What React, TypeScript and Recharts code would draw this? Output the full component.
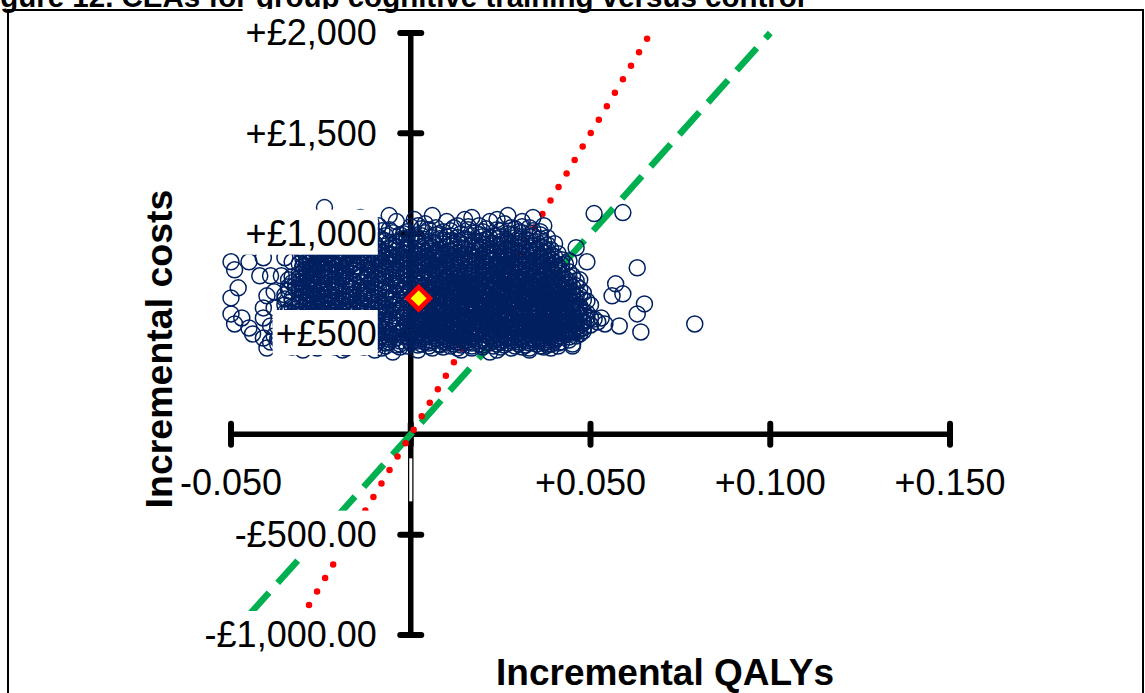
import React from "react";
import { ScatterChart, Scatter, XAxis, YAxis } from "recharts";

const W = 1145;
const H = 693;

const costBands = [
  1130, 1105, 1100, 1090, 1080, 1070, 1060, 1050, 1040, 1030, 1020, 1010, 1000,
  990, 980, 970, 960, 950, 940, 930, 920, 910, 900, 890, 880, 870, 860, 850, 840,
  830, 820, 810, 800, 790, 780, 770, 760, 750, 740, 730, 720, 710, 700, 690, 680,
  670, 660, 650, 640, 630, 620, 610, 600, 590, 580, 570, 560, 550, 540, 530, 520,
  510, 500, 490, 480, 470, 460, 450, 440, 430, 420, 410,
];
const qalyRows = [
  [-24], [59], [51], [-6, 6, 27], [-14, 17, 34], [-27, 1, 15, 24], [-20, -4, 10, 22, 31],
  [-31, -11, 4, 26], [-9, 2, 13, 19, 37], [-24, -15, 7, 12, 28, 33], [-28, -6, 5, 16, 24],
  [-17, -1, 9, 20, 30, 36], [-25, -11, -2, 8, 14, 27],
  [-30, -19, -7, 3, 11, 17, 23, 34],
  [-23, -14, -1, 6, 13, 22, 29, 38],
  [-26, -8, 0, 9, 16, 21, 32],
  [-21, -12, -4, 4, 13, 18, 25, 35],
  [-29, -17, -10, -3, 2, 9, 14, 23, 30, 40],
  [-27, -24, -15, -5, 4, 11, 17, 22, 28, 34],
  [-31, -22, -17, -9, -1, 6, 14, 20, 27, 33, 37, 46],
  [-27, -20, -13, -2, 3, 8, 12, 19, 25, 31, 39],
  [-25, -20, -13, -8, 2, 7, 16, 21, 25, 30, 35],
  [-29, -23, -17, -11, -6, 1, 6, 10, 15, 21, 26, 30, 41],
  [-27, -23, -15, -9, -3, 5, 9, 14, 19, 26, 31, 36],
  [-41, -35, -25, -18, -10, -5, -1, 4, 12, 18, 24, 29, 33, 38],
  [-28, -22, -19, -12, -6, 0, 8, 12, 16, 23, 27, 33, 39, 42],
  [-50, -45, -33, -29, -23, -17, -12, -4, 3, 7, 14, 20, 25, 31, 35, 49],
  [-31, -26, -22, -16, -8, -3, 2, 10, 16, 21, 27, 32, 36, 43],
  [-30, -25, -20, -15, -9, 1, 7, 11, 17, 24, 28, 34, 40],
  [-28, -24, -18, -12, -3, 2, 8, 13, 19, 23, 29, 33, 38, 63],
  [-49, -29, -25, -19, -11, -6, 4, 10, 15, 22, 26, 32, 37, 41],
  [-30, -26, -21, -14, -7, 0, 5, 9, 17, 21, 26, 31, 36, 44],
  [-31, -27, -16, -8, -2, 6, 11, 15, 19, 23, 30, 35, 39],
  [-42, -39, -36, -29, -24, -19, -12, -2, 3, 11, 14, 20, 25, 28, 37, 45],
  [-31, -27, -23, -19, -10, -5, 3, 8, 13, 17, 25, 30, 34, 42],
  [-34, -28, -21, -13, -5, 1, 7, 14, 18, 22, 27, 31, 36, 40, 47],
  [-31, -27, -22, -16, -7, -1, 5, 12, 16, 19, 24, 27, 33, 36, 44],
  [-30, -26, -20, -11, -4, 2, 9, 13, 16, 21, 25, 29, 33, 38, 41, 57],
  [-29, -24, -18, -12, -4, 4, 9, 13, 17, 21, 26, 30, 34, 38, 46],
  [-48, -31, -27, -21, -14, -8, 2, 6, 10, 14, 18, 23, 27, 31, 35, 43],
  [-30, -25, -21, -12, -6, -2, 7, 11, 15, 20, 24, 28, 32, 36, 40],
  [-38, -30, -25, -17, -11, -6, 3, 8, 12, 16, 20, 25, 29, 33, 37, 41, 45],
  [-29, -23, -16, -10, -1, 4, 8, 13, 17, 22, 26, 30, 34, 38, 42, 59],
  [-40, -30, -26, -19, -13, -4, 1, 5, 10, 14, 18, 22, 27, 31, 35, 39, 47, 56],
  [-50, -33, -28, -21, -16, -7, 1, 6, 10, 15, 19, 23, 28, 32, 36, 40, 44],
  [-31, -27, -22, -17, -11, -3, 2, 6, 11, 15, 20, 24, 29, 33, 37, 41, 48],
  [-30, -26, -24, -18, -9, 0, 4, 8, 12, 17, 21, 25, 29, 34, 38, 42, 46],
  [-31, -27, -24, -19, -14, -5, 1, 4, 9, 13, 18, 22, 26, 30, 35, 39, 43, 65],
  [-29, -25, -20, -14, -8, 1, 6, 11, 15, 20, 24, 27, 30, 35, 39, 43, 47],
  [-41, -38, -30, -23, -15, -9, -2, 3, 7, 11, 16, 20, 24, 28, 33, 37, 41, 45],
  [-28, -23, -18, -10, -4, 5, 9, 13, 17, 22, 26, 31, 35, 37, 41, 45],
  [-31, -25, -21, -12, -7, -1, 4, 9, 14, 18, 23, 27, 31, 35, 39, 43, 48],
  [-50, -30, -25, -16, -11, -7, 3, 7, 12, 16, 20, 25, 29, 33, 38, 42, 46, 63],
  [-33, -26, -19, -13, -9, 0, 4, 8, 11, 15, 21, 25, 29, 33, 37, 41, 45],
  [-47, -41, -29, -22, -17, -13, -4, 2, 6, 10, 14, 18, 22, 27, 31, 35, 39, 43, 47, 50, 53],
  [-31, -26, -17, -13, -8, 2, 6, 10, 15, 19, 23, 27, 32, 36, 40, 44, 49],
  [-36, -27, -21, -15, -11, -3, 3, 7, 12, 16, 20, 24, 28, 33, 37, 42, 46, 52],
  [-49, -30, -24, -15, -10, -6, 4, 8, 12, 17, 21, 25, 30, 34, 38, 42, 46, 54, 79],
  [-39, -30, -25, -19, -14, -10, 0, 5, 9, 13, 18, 22, 26, 31, 35, 39, 43, 47, 58],
  [-45, -33, -26, -20, -14, -5, 1, 6, 10, 14, 19, 23, 28, 32, 36, 40, 44, 48],
  [-35, -29, -21, -16, -11, -2, 3, 7, 11, 15, 19, 24, 28, 33, 37, 41, 45],
  [-36, -30, -24, -16, -7, -3, 3, 8, 12, 16, 21, 25, 30, 34, 38, 42, 46, 64],
  [-44, -32, -26, -20, -12, -6, 0, 5, 9, 13, 17, 21, 26, 30, 35, 39, 43, 47],
  [-38, -33, -27, -22, -17, -8, -2, 2, 6, 10, 14, 18, 23, 27, 32, 36, 41, 46],
  [-41, -36, -30, -22, -13, -9, -4, 1, 7, 11, 15, 20, 24, 29, 33, 37, 41],
  [-35, -25, -19, -14, -9, 1, 5, 9, 12, 16, 20, 25, 29, 34, 38, 44],
  [-39, -28, -18, -12, -6, 0, 4, 9, 13, 16, 21, 25, 30, 34, 38, 42],
  [-37, -32, -21, -15, -11, -3, 3, 8, 12, 19, 24, 30, 35, 39, 45],
  [-36, -29, -23, -15, -7, -1, 5, 11, 17, 23, 29, 36, 41, 45],
  [-40, -26, -18, -8, 6, 13, 17, 28, 33, 39],
  [-30, -19, -10, 2, 14, 24, 33],
  [-5, 22],
];

// the dense core, read at the in-between bands
const midCostBands = [
  1035, 1025, 1015, 1005, 995, 985, 975, 965, 955, 945, 935, 925, 915, 905, 895, 885,
  875, 865, 855, 845, 835, 825, 815, 805, 795, 785, 775, 765, 755, 745, 735, 725, 715,
  705, 695, 685, 675, 665, 655, 645, 635, 625, 615, 605, 595, 585, 575, 565, 555, 545,
  535, 525, 515, 505, 495, 485, 475, 465, 455, 445, 435,
];
const midQalyRows = [
  [-19, 0, 16, 31],
  [-11, 3, 21, 29],
  [-26, -8, 11, 25, 34],
  [-20, -5, 4, 18, 31],
  [-27, -13, -3, 7, 19, 28, 36],
  [-29, -17, -9, 1, 10, 20, 25, 33],
  [-31, -20, -11, -2, 8, 15, 24, 30, 36],
  [-28, -16, -7, 2, 11, 20, 27, 33],
  [-25, -14, -6, 6, 12, 19, 26, 37],
  [-30, -20, -11, -1, 7, 15, 20, 25, 31, 38],
  [-26, -19, -12, -4, 3, 10, 18, 24, 30, 36],
  [-30, -23, -16, -6, 1, 5, 15, 22, 28, 35],
  [-28, -22, -16, -10, -4, 5, 11, 18, 23, 28, 33, 38],
  [-26, -19, -14, -8, -2, 4, 8, 13, 19, 24, 28, 33, 37],
  [-30, -25, -20, -12, -5, 2, 7, 11, 17, 22, 28, 34, 39],
  [-29, -21, -14, -7, -3, 2, 7, 15, 21, 27, 31, 36, 40],
  [-30, -24, -16, -9, -2, 4, 10, 14, 20, 25, 30, 36],
  [-26, -20, -14, -8, -1, 5, 10, 17, 22, 28, 33, 38, 44],
  [-28, -24, -19, -13, -6, 0, 5, 12, 18, 24, 29, 34, 40],
  [-27, -22, -17, -11, -5, -1, 4, 9, 14, 20, 26, 31, 37, 42],
  [-30, -26, -21, -15, -7, 0, 5, 10, 16, 21, 26, 31, 36, 41],
  [-27, -22, -16, -9, -4, 1, 7, 12, 18, 24, 29, 34, 39],
  [-28, -23, -18, -10, -4, 2, 7, 13, 19, 24, 28, 33, 39, 42],
  [-29, -24, -19, -12, -5, 3, 8, 13, 17, 21, 27, 33, 37, 41],
  [-27, -21, -15, -9, -4, 1, 6, 12, 17, 23, 27, 32, 35, 40],
  [-33, -25, -20, -14, -7, -1, 5, 10, 15, 20, 24, 28, 32, 39, 44],
  [-30, -24, -17, -9, -3, 4, 10, 16, 20, 25, 29, 34, 38, 43],
  [-29, -25, -18, -11, -4, 3, 9, 14, 18, 22, 26, 30, 35, 39, 46],
  [-33, -28, -24, -14, -9, 0, 7, 11, 15, 19, 23, 28, 31, 35, 40, 43],
  [-32, -27, -21, -15, -8, -1, 6, 11, 15, 19, 24, 28, 32, 36, 40, 44],
  [-34, -29, -24, -17, -10, -3, 4, 8, 12, 16, 21, 25, 29, 33, 37, 41, 45],
  [-32, -28, -23, -16, -9, 0, 5, 9, 13, 17, 22, 26, 30, 34, 38, 42, 47],
  [-34, -27, -22, -14, -8, -3, 5, 10, 14, 18, 23, 27, 31, 35, 39, 43],
  [-31, -26, -20, -13, -7, 1, 6, 11, 15, 19, 24, 28, 32, 36, 40, 44, 48],
  [-35, -28, -22, -16, -9, -2, 3, 8, 12, 16, 20, 25, 29, 33, 37, 41, 45],
  [-30, -25, -18, -12, -5, 3, 8, 13, 17, 21, 25, 30, 34, 38, 42, 46],
  [-35, -29, -24, -19, -13, -6, 0, 4, 9, 13, 17, 22, 26, 31, 35, 39, 43],
  [-33, -28, -21, -14, -6, 2, 6, 10, 14, 19, 23, 27, 32, 36, 40, 44, 49],
  [-29, -22, -16, -11, -2, 2, 7, 11, 16, 20, 24, 28, 32, 37, 41, 45],
  [-35, -31, -23, -17, -11, -4, 3, 8, 13, 17, 22, 26, 29, 33, 37, 41, 45, 50],
  [-33, -27, -21, -18, -12, -5, 0, 5, 9, 14, 18, 22, 26, 31, 35, 39, 43, 47],
  [-32, -26, -20, -13, -7, -1, 3, 7, 11, 15, 20, 24, 29, 33, 39, 43, 47],
  [-34, -28, -23, -15, -9, -4, 2, 7, 11, 16, 20, 25, 29, 33, 37, 41, 46],
  [-35, -28, -22, -14, -9, -3, 1, 5, 10, 14, 18, 23, 27, 31, 35, 40, 44, 49],
  [-29, -23, -17, -11, -6, -2, 6, 10, 13, 17, 23, 27, 31, 35, 39, 43, 47],
  [-34, -27, -20, -15, -10, -2, 4, 8, 12, 16, 20, 24, 29, 33, 37, 41, 45, 49],
  [-35, -29, -22, -15, -10, -5, 0, 4, 8, 13, 17, 21, 25, 30, 34, 38, 42, 46, 51],
  [-33, -24, -19, -13, -6, 1, 5, 9, 14, 18, 22, 26, 31, 35, 39, 44, 48],
  [-35, -27, -21, -17, -8, -1, 2, 6, 10, 15, 19, 23, 28, 32, 36, 40, 44, 48],
  [-36, -28, -22, -17, -12, -4, 2, 7, 11, 16, 20, 24, 29, 33, 37, 41, 45, 50],
  [-37, -29, -23, -17, -9, -2, 4, 8, 12, 17, 21, 25, 30, 34, 38, 42, 46],
  [-32, -25, -18, -13, -8, 0, 5, 9, 13, 17, 22, 26, 30, 35, 39, 43, 47],
  [-33, -27, -20, -13, -5, 1, 5, 10, 14, 18, 23, 27, 32, 36, 40, 44, 48],
  [-35, -29, -23, -17, -9, -3, 2, 7, 11, 15, 19, 24, 28, 33, 37, 41, 45],
  [-30, -25, -19, -14, -5, 0, 4, 8, 12, 16, 21, 25, 29, 34, 38, 43],
  [-33, -27, -20, -16, -11, -6, -1, 4, 9, 13, 17, 22, 27, 31, 35, 39, 44],
  [-37, -30, -22, -16, -11, -6, 3, 7, 10, 14, 18, 23, 27, 31, 36, 40],
  [-32, -24, -15, -9, -3, 2, 6, 11, 15, 19, 23, 28, 32, 36, 40],
  [-35, -27, -18, -13, -7, 0, 5, 10, 14, 17, 22, 27, 33, 37, 41],
  [-31, -25, -18, -10, -4, 2, 8, 14, 20, 26, 32, 38],
  [-33, -21, -13, -3, 9, 20, 25, 31, 37],
];

// mean incremental QALY / cost
const meanQaly = [0.0022];
const meanCost = [678];

// willingness-to-pay lines (£20,000 and £30,000 per QALY)
const wtp20kQalys = [-0.045, 0.1];
const wtp20kCosts = [-900, 2000];
const wtp30kQalys = [-0.0283, 0.0667];
const wtp30kCosts = [-850, 2000];

const xTicks = [-0.05, 0, 0.05, 0.1, 0.15];
const xTickLabels = ["-0.050", "", "+0.050", "+0.100", "+0.150"];
const yTicks = [-1000, -500, 500, 1000, 1500, 2000];
const yTickLabels = ["-£1,000.00", "-£500.00", "+£500", "+£1,000", "+£1,500", "+£2,000"];

const FONT = '"Liberation Sans", Arial, sans-serif';
const TICK_FS = 36;

const toPoints = (bands: number[], rows: number[][]) =>
  bands.flatMap((c, i) => rows[i].map((q) => ({ q: q / 1000, c })));
const cloud = [...toPoints(costBands, qalyRows), ...toPoints(midCostBands, midQalyRows)];
const meanPoint = meanQaly.map((q, i) => ({ q, c: meanCost[i] }));
const wtp20k = wtp20kQalys.map((q, i) => ({ q, c: wtp20kCosts[i] }));
const wtp30k = wtp30kQalys.map((q, i) => ({ q, c: wtp30kCosts[i] }));
const xAxisLine = [{ q: xTicks[0], c: 0 }, { q: xTicks[xTicks.length - 1], c: 0 }];
const yAxisLine = [{ q: 0, c: yTicks[0] }, { q: 0, c: yTicks[yTicks.length - 1] }];
const xTickData = xTicks.map((q, i) => ({ q, c: 0, label: xTickLabels[i] }));
const yTickData = yTicks.map((c, i) => ({ q: 0, c, label: yTickLabels[i] }));

let ctx: CanvasRenderingContext2D | null = null;
const textWidth = (s: string) => {
  if (!ctx) ctx = document.createElement("canvas").getContext("2d");
  if (!ctx) return s.length * TICK_FS * 0.55;
  ctx.font = `${TICK_FS}px "Liberation Sans"`;
  return ctx.measureText(s).width;
};

const Nothing = () => <g />;

const Ring = (p: any) => (
  <circle cx={p.cx} cy={p.cy} r={8} fill="none" stroke="#002060" strokeWidth={1.5} />
);

const Diamond = (p: any) => {
  const d = 11.2;
  return (
    <polygon
      points={`${p.cx},${p.cy - d} ${p.cx + d},${p.cy} ${p.cx},${p.cy + d} ${p.cx - d},${p.cy}`}
      fill="#FFFF00"
      stroke="#FF0000"
      strokeWidth={4.6}
    />
  );
};

const XTick = (p: any) => (
  <line x1={p.cx} x2={p.cx} y1={p.cy - 10.5} y2={p.cy + 10.5} stroke="#000" strokeWidth={6} strokeLinecap="round" />
);
const YTick = (p: any) => (
  <line x1={p.cx - 10.5} x2={p.cx + 10.5} y1={p.cy} y2={p.cy} stroke="#000" strokeWidth={6} strokeLinecap="round" />
);

const XLabel = (p: any) => {
  const s: string = p.payload.label;
  if (!s) return <rect x={p.cx - 1.5} y={p.cy + 24} width={3} height={43} fill="#fff" />;
  const w = textWidth(s);
  return (
    <g>
      <rect x={p.cx - w / 2 - 3} y={p.cy + 24} width={w + 6} height={43} fill="#fff" />
      <text x={p.cx} y={p.cy + 61} textAnchor="middle" fontSize={TICK_FS} fontFamily={FONT} fill="#000">
        {s}
      </text>
    </g>
  );
};

const YLabel = (p: any) => {
  const s: string = p.payload.label;
  const w = textWidth(s);
  const right = p.cx - 34;
  return (
    <g>
      <rect x={right - w - 3} y={p.cy - 24} width={w + 4} height={45} fill="#fff" />
      <text x={right} y={p.cy + 12.5} textAnchor="end" fontSize={TICK_FS} fontFamily={FONT} fill="#000">
        {s}
      </text>
    </g>
  );
};

export default function App() {
  return (
    <div style={{ position: "absolute", left: 0, top: 0, width: W, height: H, background: "#fff", overflow: "hidden" }}>
      <svg width={W} height={H} style={{ position: "absolute", left: 0, top: 0 }}>
        <rect x={8} y={10} width={1135} height={720} fill="none" stroke="#000" strokeWidth={2} />
        <text x={-26} y={7} fontSize={29.5} fontWeight="bold" fontFamily={FONT}>
          Figure 12. CEAs for group cognitive training versus control
        </text>
        <text x={665} y={685} textAnchor="middle" fontSize={37} fontWeight="bold" fontFamily={FONT}>
          Incremental QALYs
        </text>
        <text transform="translate(172,349) rotate(-90)" textAnchor="middle" fontSize={37.5} fontWeight="bold" fontFamily={FONT}>
          Incremental costs
        </text>
      </svg>
      <div style={{ position: "absolute", left: 0, top: 0 }}>
        <ScatterChart width={W} height={H} margin={{ top: 12.93, right: 123.1, bottom: 37.94, left: 195.05 }}>
          <XAxis type="number" dataKey="q" domain={[-0.06, 0.17]} hide />
          <YAxis type="number" dataKey="c" domain={[-1100, 2100]} hide />
          <Scatter data={xAxisLine} fill="#000" line={{ stroke: "#000", strokeWidth: 5.5 }} shape={Nothing} isAnimationActive={false} />
          <Scatter data={yAxisLine} fill="#000" line={{ stroke: "#000", strokeWidth: 5.5 }} shape={Nothing} isAnimationActive={false} />
          <Scatter data={xTickData} fill="#000" shape={XTick} isAnimationActive={false} />
          <Scatter data={yTickData} fill="#000" shape={YTick} isAnimationActive={false} />
          <Scatter
            data={wtp20k}
            fill="#00B050"
            line={{ stroke: "#00B050", strokeWidth: 6.5, strokeDasharray: "30 13" }}
            shape={Nothing}
            isAnimationActive={false}
          />
          <Scatter
            data={wtp30k}
            fill="#FF0000"
            line={{ stroke: "#FF0000", strokeWidth: 6.5, strokeDasharray: "0 15.7", strokeLinecap: "round" }}
            shape={Nothing}
            isAnimationActive={false}
          />
          <Scatter data={cloud} fill="#002060" shape={Ring} isAnimationActive={false} />
          <Scatter data={xTickData} fill="#fff" shape={XLabel} isAnimationActive={false} />
          <Scatter data={yTickData} fill="#fff" shape={YLabel} isAnimationActive={false} />
          <Scatter data={meanPoint} fill="#FFFF00" shape={Diamond} isAnimationActive={false} />
        </ScatterChart>
      </div>
    </div>
  );
}
